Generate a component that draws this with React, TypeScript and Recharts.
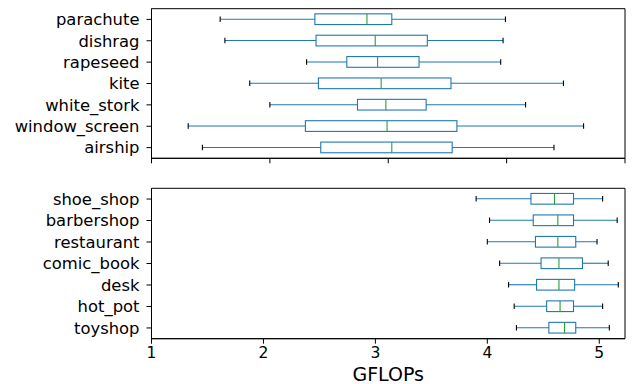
import React from 'react';
import { ComposedChart, Bar, XAxis, YAxis, Label, ReferenceArea } from 'recharts';

// top panel
const topCats = ['parachute', 'dishrag', 'rapeseed', 'kite', 'white_stork', 'window_screen', 'airship'];
const topLo = [1.58, 1.62, 2.31, 1.83, 2.0, 1.31, 1.43];
const topQ1 = [2.38, 2.39, 2.65, 2.41, 2.74, 2.3, 2.43];
const topMed = [2.82, 2.89, 2.91, 2.94, 2.98, 2.99, 3.03];
const topQ3 = [3.03, 3.33, 3.26, 3.53, 3.32, 3.58, 3.54];
const topHi = [3.99, 3.97, 3.95, 4.48, 4.16, 4.65, 4.4];

// bottom panel
const botCats = ['shoe_shop', 'barbershop', 'restaurant', 'comic_book', 'desk', 'hot_pot', 'toyshop'];
const botLo = [3.9, 4.02, 4.0, 4.11, 4.19, 4.24, 4.26];
const botQ1 = [4.39, 4.41, 4.43, 4.48, 4.44, 4.53, 4.55];
const botMed = [4.6, 4.63, 4.63, 4.64, 4.64, 4.65, 4.69];
const botQ3 = [4.77, 4.77, 4.79, 4.85, 4.78, 4.77, 4.79];
const botHi = [5.03, 5.16, 4.98, 5.08, 5.17, 5.03, 5.09];

const xTicks = [1, 2, 3, 4, 5];

const build = (cats: string[], lo: number[], q1: number[], med: number[], q3: number[], hi: number[]) =>
  cats.map((name, i) => ({ name, lo: lo[i], q1: q1[i], med: med[i], q3: q3[i], hi: hi[i] }));

const topData = build(topCats, topLo, topQ1, topMed, topQ3, topHi);
const botData = build(botCats, botLo, botQ1, botMed, botQ3, botHi);

const BLUE = '#1f77b4';
const GREEN = '#2ca02c';
const FRAME = '#000';
const FONT = 'DejaVu Sans';

function BoxShape(props: any) {
  const { x, y, width, height, payload } = props;
  const { lo, hi, q1, med, q3 } = payload;
  const px = (v: number) => x + ((v - lo) / (hi - lo)) * width;
  const cy = y + height / 2;
  const bh = 10.7;
  const cap = 2.7;
  return (
    <g>
      <line x1={px(lo)} x2={px(q1)} y1={cy} y2={cy} stroke={BLUE} strokeWidth={1.1} />
      <line x1={px(q3)} x2={px(hi)} y1={cy} y2={cy} stroke={BLUE} strokeWidth={1.1} />
      <line x1={px(lo)} x2={px(lo)} y1={cy - cap} y2={cy + cap} stroke="#000" strokeWidth={1.1} />
      <line x1={px(hi)} x2={px(hi)} y1={cy - cap} y2={cy + cap} stroke="#000" strokeWidth={1.1} />
      <rect x={px(q1)} y={cy - bh / 2} width={px(q3) - px(q1)} height={bh} fill="none" stroke={BLUE} strokeWidth={1.1} />
      <line x1={px(med)} x2={px(med)} y1={cy - bh / 2} y2={cy + bh / 2} stroke={GREEN} strokeWidth={1.1} />
    </g>
  );
}

const range = (d: any) => [d.lo, d.hi];

type PanelProps = { data: any[]; domain: number[]; showLabels: boolean; height: number; top: number; axisH: number };

function Panel({ data, domain, showLabels, height, top, axisH }: PanelProps) {
  return (
    <ComposedChart
      width={632}
      height={height}
      data={data}
      layout="vertical"
      barCategoryGap={0}
      margin={{ top, right: 7, left: 0, bottom: 0 }}
    >
      <XAxis
        type="number"
        domain={domain}
        ticks={xTicks}
        allowDataOverflow
        height={axisH}
        tickSize={5}
        tickMargin={3}
        stroke={FRAME}
        tick={{ fill: showLabels ? '#000' : 'none', fontSize: 15.5, fontFamily: FONT }}
        tickFormatter={(v: number) => (showLabels ? String(v) : '')}
      >
        {showLabels && (
          <Label value="GFLOPs" position="insideBottom" offset={3.5} style={{ fill: '#000', fontSize: 19, fontFamily: FONT }} />
        )}
      </XAxis>
      <YAxis
        type="category"
        dataKey="name"
        width={151.5}
        tickSize={5}
        tickMargin={7}
        stroke={FRAME}
        interval={0}
        tick={{ fill: '#000', fontSize: 16.4, fontFamily: FONT }}
      />
      <ReferenceArea x1={domain[0]} x2={domain[1]} fill="none" stroke={FRAME} strokeWidth={1} ifOverflow="visible" />
      <Bar dataKey={range} shape={BoxShape} isAnimationActive={false} />
    </ComposedChart>
  );
}

export default function App() {
  return (
    <div style={{ position: 'absolute', left: 0, top: 0, width: 632, height: 384, background: '#fff' }}>
      <div style={{ position: 'absolute', left: 0, top: 0 }}>
        <Panel data={topData} domain={[1, 5]} showLabels={false} height={170} top={8.7} axisH={11.7} />
      </div>
      <div style={{ position: 'absolute', left: 0, top: 180 }}>
        <Panel data={botData} domain={[1, 5.23]} showLabels={true} height={204} top={8.3} axisH={45.3} />
      </div>
    </div>
  );
}
